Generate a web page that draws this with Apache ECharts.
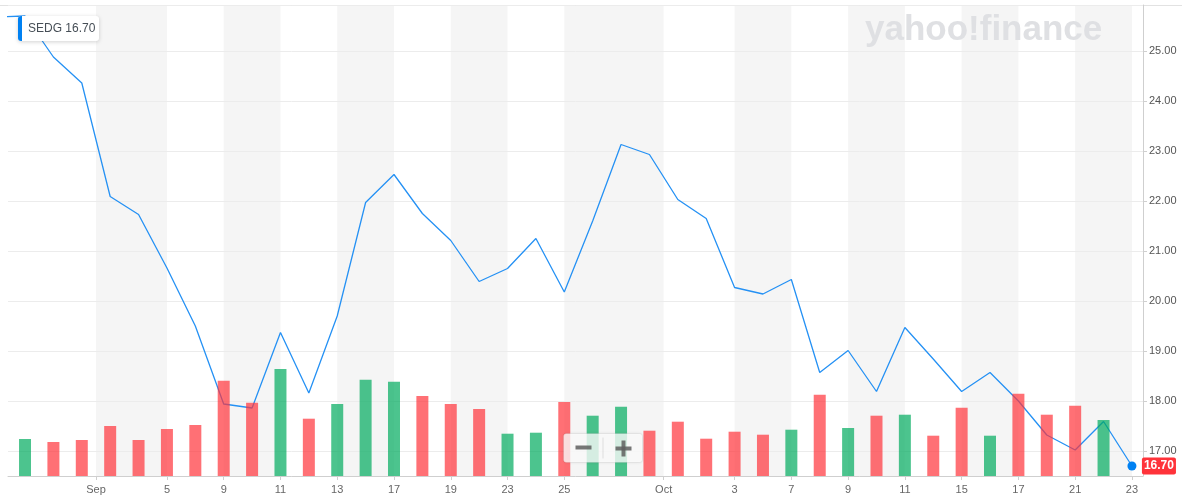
<!DOCTYPE html>
<html>
<head>
<meta charset="utf-8">
<title>SEDG</title>
<script src="https://cdn.jsdelivr.net/npm/echarts@6/dist/echarts.min.js"></script>
<style>
    html, body { margin: 0; padding: 0; background: #fff; }
    #chart { width: 1182px; height: 501px; }
</style>
</head>
<body>
<div id="chart"></div>
<script>
    // trading days (Aug 27 is only there so the line runs off the left edge)
    const dates = [
        '2019-08-27', '2019-08-28', '2019-08-29', '2019-08-30', '2019-09-03', '2019-09-04',
        '2019-09-05', '2019-09-06', '2019-09-09', '2019-09-10', '2019-09-11', '2019-09-12',
        '2019-09-13', '2019-09-16', '2019-09-17', '2019-09-18', '2019-09-19', '2019-09-20',
        '2019-09-23', '2019-09-24', '2019-09-25', '2019-09-26', '2019-09-27', '2019-09-30',
        '2019-10-01', '2019-10-02', '2019-10-03', '2019-10-04', '2019-10-07', '2019-10-08',
        '2019-10-09', '2019-10-10', '2019-10-11', '2019-10-14', '2019-10-15', '2019-10-16',
        '2019-10-17', '2019-10-18', '2019-10-21', '2019-10-22', '2019-10-23'
    ]
    const closes = [
        25.68, 25.70, 24.88, 24.36, 22.09, 21.73,
        20.66, 19.50, 17.94, 17.86, 19.37, 18.16,
        19.70, 21.97, 22.53, 21.75, 21.21, 20.39,
        20.65, 21.25, 20.18, 21.60, 23.13, 22.93,
        22.03, 21.65, 20.27, 20.14, 20.43, 18.57,
        19.01, 18.19, 19.47, 18.84, 18.19, 18.57,
        18.00, 17.32, 17.02, 17.59, 16.70
    ]
    // volume, thousands of shares
    const volumes = [
        null, 370, 340, 360, 500, 360,
        470, 510, 953, 733, 1070, 573,
        720, 963, 943, 800, 720, 670,
        423, 433, 740, 603, 693, 453,
        543, 373, 443, 413, 463, 813,
        480, 603, 613, 403, 683, 403,
        823, 613, 703, 560, null
    ]
    // x axis ticks: 'YYYY-MM' = month boundary, 'YYYY-MM-DD' = a day
    const tickDates = [
        '2019-09', '2019-09-05', '2019-09-09', '2019-09-11', '2019-09-13', '2019-09-17',
        '2019-09-19', '2019-09-23', '2019-09-25', '2019-10', '2019-10-03', '2019-10-07',
        '2019-10-09', '2019-10-11', '2019-10-15', '2019-10-17', '2019-10-21', '2019-10-23'
    ]
    const symbol = 'SEDG'
    const monthNames = ['Jan', 'Feb', 'Mar', 'Apr', 'May', 'Jun', 'Jul', 'Aug', 'Sep', 'Oct', 'Nov', 'Dec']

    const tickPos = tickDates.map(d => d.length === 7
        ? dates.findIndex(x => x.startsWith(d)) - 0.5
        : dates.indexOf(d))
    const tickText = {}
    tickDates.forEach((d, i) => {
        tickText[tickPos[i]] = d.length === 7 ? monthNames[+d.slice(5, 7) - 1] : String(+d.slice(8))
    })

    // alternating grey bands between tick pairs
    const bands = []
    for (let i = 0; i + 1 < tickPos.length; i += 2) {
        bands.push([{ xAxis: tickPos[i] }, { xAxis: tickPos[i + 1] }])
    }

    const last = closes.length - 1
    const lineData = closes.map((c, i) => i === last
        ? { value: [i, c], symbol: 'circle', symbolSize: 9 }
        : [i, c])
    const volData = volumes.map((v, i) => [i, v])

    const UP = 'rgba(0, 171, 94, 0.7)'
    const DOWN = 'rgba(255, 51, 58, 0.7)'
    const FONT = '"Liberation Sans", Arial, sans-serif'

    const chart = echarts.init(document.getElementById('chart'))

    chart.setOption({
        animation: false,
        textStyle: { fontFamily: FONT },
        grid: { left: 8, right: 39, top: 5, bottom: 25 },
        xAxis: {
            type: 'value',
            min: 0.4,
            max: 40.39,
            axisLine: { show: true, lineStyle: { color: '#cfcfcf' } },
            axisTick: { show: true, length: 4, customValues: tickPos, lineStyle: { color: '#cfcfcf' } },
            axisLabel: {
                customValues: tickPos,
                formatter: v => tickText[v] || '',
                color: '#666',
                fontSize: 11,
                margin: 8
            },
            splitLine: { show: false }
        },
        yAxis: [{
            type: 'value',
            position: 'right',
            min: 16.5,
            max: 25.92,
            splitNumber: 9,
            axisLine: { show: true, lineStyle: { color: '#cfcfcf' } },
            axisTick: { show: true, length: 4, lineStyle: { color: '#cfcfcf' } },
            axisLabel: {
                formatter: v => v.toFixed(2),
                showMinLabel: false,
                showMaxLabel: false,
                color: '#555',
                fontSize: 11,
                margin: 6
            },
            splitLine: { lineStyle: { color: '#ececec' } }
        }, {
            type: 'value',
            min: 0,
            max: 4710,
            show: false
        }],
        series: [{
            // carrier for the grey bands, under the grid lines
            type: 'line',
            data: lineData.map(d => d.value || d),
            symbol: 'none',
            lineStyle: { opacity: 0 },
            silent: true,
            z: -1,
            markArea: {
                silent: true,
                z: -1,
                itemStyle: { color: '#f5f5f5' },
                data: bands
            }
        }, {
            name: symbol,
            type: 'line',
            data: lineData,
            symbol: 'none',
            showSymbol: true,
            lineStyle: { color: '#2591f4', width: 1.3 },
            itemStyle: { color: '#0081f2' },
            z: 2,
            endLabel: {
                show: true,
                distance: 10,
                formatter: p => p.value[1].toFixed(2),
                color: '#fff',
                fontWeight: 'bold',
                fontSize: 12,
                backgroundColor: '#ff333a',
                borderRadius: 2,
                padding: [3, 2, 2, 2]
            }
        }, {
            name: 'Volume',
            type: 'bar',
            yAxisIndex: 1,
            data: volData,
            barWidth: 12,
            z: 3,
            itemStyle: {
                color: p => closes[p.dataIndex] >= closes[p.dataIndex - 1] ? UP : DOWN
            }
        }],
        graphic: [{
            type: 'line',
            z: 0,
            shape: { x1: 0, y1: 5.5, x2: 1182, y2: 5.5 },
            style: { stroke: '#e2e2e2', lineWidth: 1 }
        }, {
            type: 'text',
            z: 1,
            left: 865,
            top: 13,
            style: {
                text: 'yahoo!finance',
                font: 'bold 35px ' + FONT,
                fill: '#dfe0e3'
            }
        }, {
            type: 'group',
            left: 18,
            top: 16,
            z: 10,
            children: [{
                type: 'rect',
                z: 10,
                shape: { x: 0, y: 0, width: 81, height: 25, r: 3 },
                style: { fill: '#fff', shadowBlur: 4, shadowColor: 'rgba(0,0,0,0.18)', shadowOffsetY: 1 }
            }, {
                type: 'rect',
                z: 11,
                shape: { x: 0, y: 0, width: 4, height: 25, r: [3, 0, 0, 3] },
                style: { fill: '#0081f2' }
            }, {
                type: 'text',
                z: 11,
                x: 10,
                y: 12.5,
                style: {
                    text: symbol + ' ' + closes[last].toFixed(2),
                    font: '12px ' + FONT,
                    fill: '#464e56',
                    verticalAlign: 'middle'
                }
            }]
        }, {
            type: 'group',
            left: 563,
            top: 433,
            z: 10,
            children: [{
                type: 'rect',
                z: 10,
                shape: { x: 0, y: 0, width: 79, height: 29, r: 3 },
                style: {
                    fill: 'rgba(255,255,255,0.78)',
                    stroke: 'rgba(0,0,0,0.06)',
                    shadowBlur: 3,
                    shadowColor: 'rgba(0,0,0,0.12)'
                }
            }, {
                type: 'line',
                z: 11,
                shape: { x1: 39.5, y1: 4, x2: 39.5, y2: 25 },
                style: { stroke: 'rgba(0,0,0,0.1)', lineWidth: 1 }
            }, {
                type: 'rect',
                z: 11,
                shape: { x: 12, y: 12, width: 16, height: 4 },
                style: { fill: 'rgba(95,95,95,0.85)' }
            }, {
                type: 'rect',
                z: 11,
                shape: { x: 52, y: 13, width: 16, height: 4 },
                style: { fill: 'rgba(95,95,95,0.85)' }
            }, {
                type: 'rect',
                z: 11,
                shape: { x: 58, y: 7, width: 4, height: 16 },
                style: { fill: 'rgba(95,95,95,0.85)' }
            }]
        }]
    })
</script>
</body>
</html>
